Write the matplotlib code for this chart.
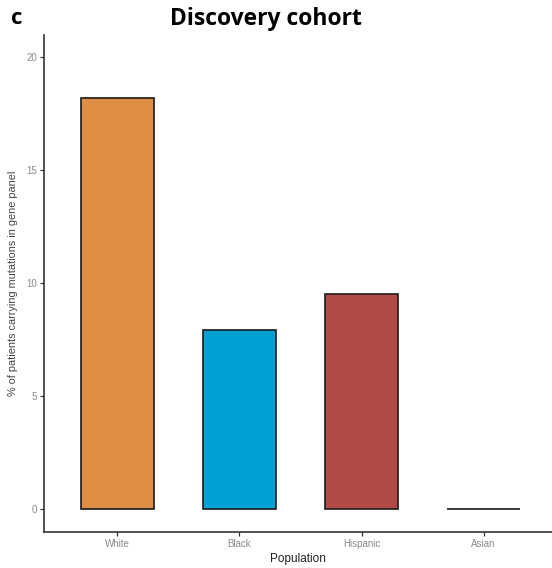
import matplotlib.pyplot as plt

plt.rcParams['font.family'] = ['Liberation Sans', 'DejaVu Sans']

# data
populations = ['White', 'Black', 'Hispanic', 'Asian']
pct_mutated = [18.2, 7.9, 9.5, 0.0]
bar_colors = ['#DE8F45', '#00A0D5', '#B24A47', '#FFFFFF']
y_ticks = [0, 5, 10, 15, 20]

fig = plt.figure(figsize=(5.52, 5.68), dpi=100)
ax = fig.add_axes([44/552, 1 - 532/568, (552 - 44)/552, (532 - 35)/568])

x = list(range(1, len(populations) + 1))
ax.bar(x, pct_mutated, width=0.6, color=bar_colors, edgecolor='#1a1a1a', linewidth=1.2)

ax.set_xlim(0.4, 4.56)
ax.set_ylim(-1.02, 20.98)
ax.set_xticks(x)
ax.set_xticklabels(populations)
ax.set_yticks(y_ticks)

for s in ['top', 'right']:
    ax.spines[s].set_visible(False)
for s in ['left', 'bottom']:
    ax.spines[s].set_color('#333333')
    ax.spines[s].set_linewidth(1.2)

ax.tick_params(axis='both', length=3, width=0.9, color='#333333',
               labelsize=7, labelcolor='#8a8a8a', pad=2)

ax.set_xlabel('Population', fontsize=8.5, color='#222222', labelpad=3)
ax.set_ylabel('% of patients carrying mutations in gene panel', fontsize=7.8,
              color='#444444', labelpad=6)

fig.text(266/552, 1 - 19/568, 'Discovery cohort', ha='center', va='center',
         fontsize=16.5, fontweight='bold', family='Open Sans')
fig.text(11/552, 1 - 19/568, 'c', ha='left', va='center', fontsize=16,
         fontweight='bold', family='Open Sans')

fig.savefig('out.png', dpi=100)
